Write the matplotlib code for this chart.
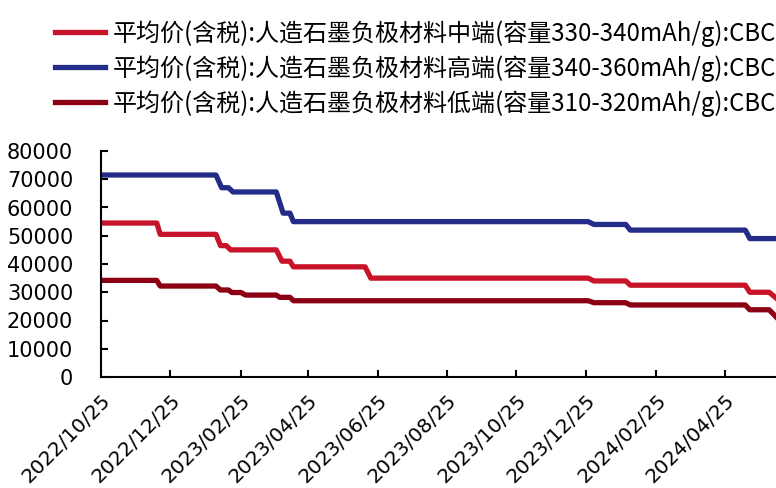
import pandas as pd
import matplotlib.pyplot as plt
import matplotlib.dates as mdates

plt.rcParams['font.family'] = ['Noto Sans CJK SC', 'DejaVu Sans']

# breakpoints of each price series (yuan/ton)
mid_dates = ['2022-10-25', '2022-12-13', '2022-12-16', '2023-02-03', '2023-02-07', '2023-02-12',
             '2023-02-16', '2023-03-28', '2023-04-02', '2023-04-09', '2023-04-12', '2023-06-14',
             '2023-06-19', '2023-12-27', '2024-01-01', '2024-01-29', '2024-02-02', '2024-05-13',
             '2024-05-17', '2024-06-03', '2024-06-09']
mid_vals = [54500, 54500, 50500, 50500, 46500, 46500,
            45000, 45000, 41000, 41000, 39000, 39000,
            35000, 35000, 34000, 34000, 32500, 32500,
            30000, 30000, 28000]

high_dates = ['2022-10-25', '2023-02-03', '2023-02-08', '2023-02-14', '2023-02-18', '2023-03-28',
              '2023-04-03', '2023-04-09', '2023-04-12', '2023-12-27', '2024-01-01', '2024-01-29',
              '2024-02-02', '2024-05-13', '2024-05-17', '2024-06-09']
high_vals = [71500, 71500, 67000, 67000, 65500, 65500,
             58000, 58000, 55000, 55000, 54000, 54000,
             52000, 52000, 49000, 49000]

low_dates = ['2022-10-25', '2022-12-13', '2022-12-16', '2023-02-03', '2023-02-07', '2023-02-14',
             '2023-02-17', '2023-02-25', '2023-03-01', '2023-03-28', '2023-03-31', '2023-04-09',
             '2023-04-12', '2023-12-27', '2024-01-01', '2024-01-29', '2024-02-02', '2024-05-13',
             '2024-05-17', '2024-06-03', '2024-06-09']
low_vals = [34200, 34200, 32200, 32200, 30800, 30800,
            29900, 29900, 29000, 29000, 28200, 28200,
            27000, 27000, 26300, 26300, 25500, 25500,
            23800, 23800, 21300]

labels = ['平均价(含税):人造石墨负极材料中端(容量330-340mAh/g):CBC',
          '平均价(含税):人造石墨负极材料高端(容量340-360mAh/g):CBC',
          '平均价(含税):人造石墨负极材料低端(容量310-320mAh/g):CBC']
colors = ['#C8142A', '#232C88', '#8C0014']

tick_dates = ['2022-10-25', '2022-12-25', '2023-02-25', '2023-04-25', '2023-06-25',
              '2023-08-25', '2023-10-25', '2023-12-25', '2024-02-25', '2024-04-25']

fig = plt.figure(figsize=(7.76, 4.88), dpi=100)
ax = fig.add_axes([101/776, 1-377/488, 1-101/776, (377-151)/488])

series = [(mid_dates, mid_vals), (high_dates, high_vals), (low_dates, low_vals)]
for (d, v), lab, c in zip(series, labels, colors):
    ax.plot(pd.to_datetime(d), v, color=c, lw=3.8, label=lab, solid_joinstyle='round')

ax.set_xlim(pd.Timestamp('2022-10-25'), pd.Timestamp('2024-06-09'))
ax.set_ylim(0, 80000)
ax.set_yticks(range(0, 80001, 10000))
ax.set_xticks(pd.to_datetime(tick_dates))
ax.xaxis.set_major_formatter(mdates.DateFormatter('%Y/%m/%d'))
for s in ['top', 'right']:
    ax.spines[s].set_visible(False)
for s in ['left', 'bottom']:
    ax.spines[s].set_linewidth(1.5)
ax.tick_params(direction='in', length=5, width=1.5, labelsize=15)
ax.tick_params(axis='y', pad=20)
ax.tick_params(axis='x', pad=10, labelsize=14.5)
for t in ax.get_yticklabels():
    t.set_family('DejaVu Sans')
for t in ax.get_xticklabels():
    t.set_family('DejaVu Sans')
    t.set_rotation(45)
    t.set_ha('right')
    t.set_va('top')
    t.set_rotation_mode('anchor')

fig.legend(loc='upper left', bbox_to_anchor=(55/776, 1-20/488), frameon=False,
           fontsize=17.3, handlelength=2.1, handletextpad=0.3, labelspacing=0.35,
           borderpad=0, borderaxespad=0)

fig.savefig('out.png', dpi=100)
